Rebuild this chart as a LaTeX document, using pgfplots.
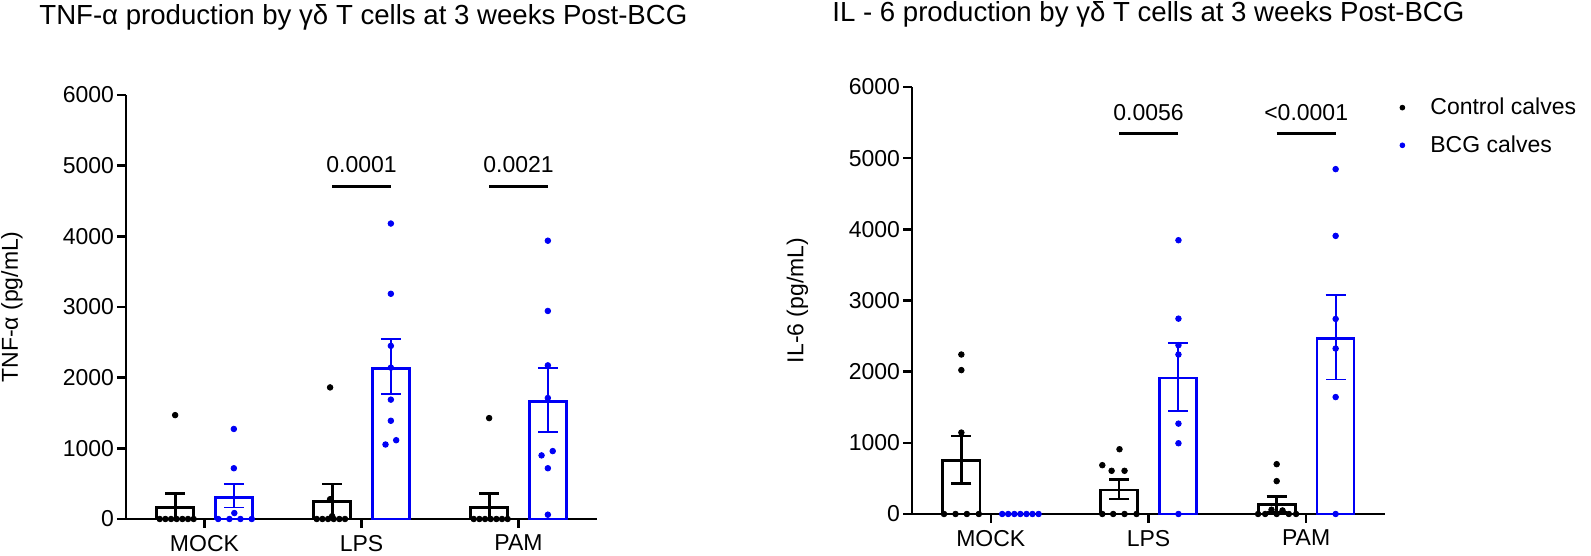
\documentclass[border=0pt]{standalone}
\usepackage{fontspec}
\setmainfont{Liberation Sans}
\usepackage{pgfplots}
\pgfplotsset{compat=1.18}
\definecolor{bblue}{RGB}{0,0,245}

\pgfplotsset{
  panel/.style={
    scale only axis,
    xmin=-0.5, xmax=2.5, ymin=0, ymax=6000,
    axis x line*=bottom, axis y line*=left,
    axis line style={line width=1.25pt, -},
    xtick={0,1,2}, xticklabels={MOCK,LPS,PAM},
    ytick={0,1000,2000,3000,4000,5000,6000},
    tick align=outside, major tick length=4.5pt,
    tick style={line width=1.2pt, black},
    yticklabel style={xshift=2pt},
    /pgf/number format/assume math mode=true,
    /pgf/number format/1000 sep={},
    font=\fontsize{11.5}{13.8}\selectfont,
    clip=false,
    every axis y label/.style={at={(axis description cs:-0.242,0.5)}, rotate=90, anchor=center},
  },
  cbar/.style={ybar, bar width=0.235, bar shift=0pt, draw=black, fill=white, line width=1.35pt,
    error bars/y dir=both, error bars/y explicit,
    error bars/error bar style={line width=1.4pt, black},
    error bars/error mark options={rotate=90, mark size=5pt, line width=1.4pt, black}},
  bbar/.style={ybar, bar width=0.235, bar shift=0pt, draw=bblue, fill=white, line width=1.3pt,
    error bars/y dir=both, error bars/y explicit,
    error bars/error bar style={line width=0.9pt, bblue},
    error bars/error mark options={rotate=90, mark size=5pt, line width=0.9pt, bblue}},
  cdot/.style={only marks, mark=*, mark size=1.4pt, black},
  bdot/.style={only marks, mark=*, mark size=1.4pt, bblue},
  sig/.style={black, line width=1.5pt, forget plot},
}

\begin{document}
\begin{tikzpicture}
\useasboundingbox (0,0) rectangle (795.5pt,278pt);

\node[anchor=base west, font=\fontsize{13.8}{16}\selectfont, inner sep=0pt] at (19.5pt,265.5pt)
  {TNF-α production by γδ T cells at 3 weeks Post-BCG};
\node[anchor=base west, font=\fontsize{13.8}{16}\selectfont, inner sep=0pt] at (416pt,267pt)
  {IL - 6 production by γδ T cells at 3 weeks Post-BCG};

% ---------------- Left panel: TNF-alpha ----------------
\begin{axis}[panel, at={(63pt,18.5pt)}, anchor=south west,
  width=235.5pt, height=212pt, ylabel={TNF-α (pg/mL)}]
\addplot[cbar] coordinates {
  (-0.187,163) += (0,201) -= (0,163)
  (0.813,247)  += (0,248) -= (0,247)
  (1.813,163)  += (0,201) -= (0,163)
};
\addplot[bbar] coordinates {
  (0.187,308)  += (0,187) -= (0,145)
  (1.187,2132) += (0,411) -= (0,368)
  (2.187,1661) += (0,476) -= (0,434)
};
\addplot[cdot] coordinates {
  (-0.285,0) (-0.249,0) (-0.213,0) (-0.177,0) (-0.141,0) (-0.105,0) (-0.069,0) (-0.187,1470)
  (0.715,0) (0.751,0) (0.787,0) (0.823,0) (0.859,0) (0.895,0) (0.813,40) (0.800,280) (0.800,1862)
  (1.715,0) (1.751,0) (1.787,0) (1.823,0) (1.859,0) (1.895,0) (1.931,0) (1.813,1428)
};
\addplot[bdot] coordinates {
  (0.087,0) (0.159,0) (0.229,0) (0.301,0) (0.19,84) (0.187,718) (0.187,1274)
  (1.187,4181) (1.187,3187) (1.187,2450) (1.187,2142) (1.187,1689) (1.187,1390) (1.153,1054) (1.221,1115)
  (2.187,3938) (2.187,2944) (2.187,2174) (2.187,1712) (2.218,961) (2.147,900) (2.187,718) (2.187,61)
};
\addplot[sig] coordinates {(0.813,4712) (1.187,4712)};
\addplot[sig] coordinates {(1.813,4712) (2.187,4712)};
\node at (axis cs:1,5010) {0.0001};
\node at (axis cs:2,5010) {0.0021};
\end{axis}

% ---------------- Right panel: IL-6 ----------------
\begin{axis}[panel, at={(456pt,21pt)}, anchor=south west,
  width=236.5pt, height=213.5pt, ylabel={IL-6 (pg/mL)},
  legend style={draw=none, fill=none, at={(rel axis cs:1.019,0.985)}, anchor=north west,
    font=\fontsize{11.5}{13.8}\selectfont, row sep=5pt, inner sep=0pt},
  legend cell align=left,
  legend image code/.code={\path[draw=none] (0pt,0pt) (16pt,0pt); \draw[#1, mark size=1.2pt] plot coordinates {(4pt,0pt)};},
]
\addplot[cbar, forget plot] coordinates {
  (-0.187,747) += (0,350) -= (0,317)
  (0.813,336)  += (0,154) -= (0,126)
  (1.813,135)  += (0,112) -= (0,112)
};
\addplot[bbar, forget plot] coordinates {
  (1.187,1910) += (0,490) -= (0,463)
  (2.187,2470) += (0,612) -= (0,579)
};
\addplot[cdot] coordinates {
  (-0.297,0) (-0.224,0) (-0.152,0) (-0.076,0) (-0.187,1144) (-0.187,2022) (-0.187,2241)
  (0.707,0) (0.776,0) (0.848,0) (0.924,0) (0.707,686) (0.766,607) (0.848,607) (0.816,910)
  (1.695,0) (1.74,0) (1.813,0) (1.89,0) (1.936,0) (1.78,60) (1.85,50) (1.813,462) (1.813,700)
};
\addlegendentry{Control calves}
\addplot[bdot] coordinates {
  (0.072,0) (0.11,0) (0.149,0) (0.187,0) (0.226,0) (0.264,0) (0.303,0)
  (1.19,3847) (1.19,2745) (1.19,2372) (1.19,2241) (1.19,1270) (1.19,994) (1.19,0)
  (2.187,4846) (2.187,3908) (2.187,2741) (2.187,2325) (2.187,1643) (2.187,0)
};
\addlegendentry{BCG calves}
\addplot[sig] coordinates {(0.813,5340) (1.187,5340)};
\addplot[sig] coordinates {(1.813,5340) (2.187,5340)};
\node at (axis cs:1,5635) {0.0056};
\node at (axis cs:2,5635) {<0.0001};
\end{axis}
\end{tikzpicture}
\end{document}
